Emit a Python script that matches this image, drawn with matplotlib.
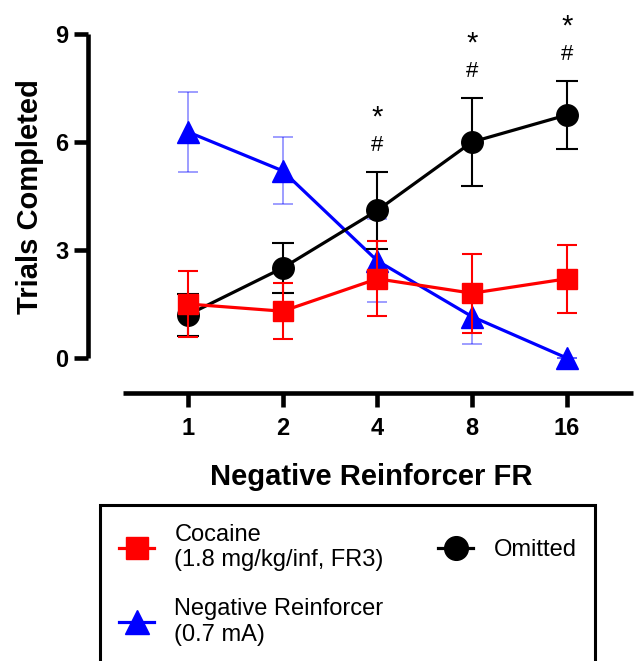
import matplotlib.pyplot as plt
import numpy as np

plt.rcParams['font.family'] = ['Liberation Sans', 'DejaVu Sans']

fr_labels = ['1', '2', '4', '8', '16']

cocaine_mean = [1.5, 1.3, 2.2, 1.8, 2.2]
cocaine_sem = [0.93, 0.78, 1.04, 1.1, 0.95]

negrf_mean = [6.28, 5.2, 2.7, 1.15, 0.0]
negrf_sem = [1.1, 0.93, 1.15, 0.77, 0.0]

omitted_mean = [1.2, 2.5, 4.1, 6.0, 6.75]
omitted_sem = [0.58, 0.69, 1.07, 1.23, 0.95]
omitted_sig = [False, False, True, True, True]

x = np.arange(len(fr_labels))

fig = plt.figure(figsize=(6.35, 6.61), dpi=100)
ax = fig.add_axes([88/635, 1 - 393/661, 545/635, 359/661])

# blue first, black over it, red on top
ax.errorbar(x, negrf_mean, yerr=negrf_sem, fmt='none', ecolor=(0, 0, 1, 0.45),
            elinewidth=1.2, capsize=7.5, capthick=1.2, zorder=2, clip_on=False)
l_neg, = ax.plot(x, negrf_mean, '-^', color='#0000FF', lw=2.3, ms=16, zorder=2.5, clip_on=False)

ax.errorbar(x, omitted_mean, yerr=omitted_sem, fmt='none', ecolor='black',
            elinewidth=1.5, capsize=8, capthick=1.5, zorder=3, clip_on=False)
l_om, = ax.plot(x, omitted_mean, '-o', color='black', lw=2.3, ms=15.5, zorder=3.5, clip_on=False)

ax.errorbar(x, cocaine_mean, yerr=cocaine_sem, fmt='none', ecolor='#FF0000',
            elinewidth=1.5, capsize=7.5, capthick=1.5, zorder=4, clip_on=False)
l_coc, = ax.plot(x, cocaine_mean, '-s', color='#FF0000', lw=2.3, ms=14, zorder=4.5, clip_on=False)

# significance marks above the Omitted error bars
for xi, m, s, sig in zip(x, omitted_mean, omitted_sem, omitted_sig):
    if sig:
        ax.annotate('#', xy=(xi, m + s), xytext=(0, 19), textcoords='offset points',
                    ha='center', va='center', fontsize=16)
        ax.annotate('*', xy=(xi, m + s), xytext=(0, 39), textcoords='offset points',
                    ha='center', va='center', fontsize=21)

ax.set_xlim(-1.055, 4.70)
ax.set_ylim(-0.972, 9)
ax.set_xticks(x)
ax.set_xticklabels(fr_labels)
ax.set_yticks([0, 3, 6, 9])

for side in ['top', 'right']:
    ax.spines[side].set_visible(False)
ax.spines['left'].set_bounds(0, 9)
ax.spines['bottom'].set_bounds(-0.686, 4.70)
for side in ['left', 'bottom']:
    ax.spines[side].set_linewidth(3.3)
    ax.spines[side].set_capstyle('butt')

ax.tick_params(axis='both', length=10, width=3.3, labelsize=17, pad=4)
ax.tick_params(axis='x', pad=7)
for lab in ax.get_xticklabels() + ax.get_yticklabels():
    lab.set_fontweight('bold')

ax.set_ylabel('Trials Completed', fontsize=21, fontweight='bold')
ax.yaxis.set_label_coords(-0.08, 0.546)
ax.set_xlabel('Negative Reinforcer FR', fontsize=21, fontweight='bold')
ax.xaxis.set_label_coords(0.519, -0.196)

leg = fig.legend([l_coc, l_neg, l_om],
                 ['Cocaine\n(1.8 mg/kg/inf, FR3)', 'Negative Reinforcer\n(0.7 mA)', 'Omitted'],
                 ncol=2, loc='upper left', bbox_to_anchor=(100/635, 1 - 505/661),
                 borderaxespad=0, fontsize=17, frameon=True, fancybox=False, framealpha=1,
                 handlelength=1.5, handletextpad=0.85, columnspacing=2.3,
                 labelspacing=1.15, borderpad=0.8, markerscale=1.1)
leg.get_frame().set_edgecolor('black')
leg.get_frame().set_linewidth(2.2)

fig.savefig('out.png', dpi=100)
